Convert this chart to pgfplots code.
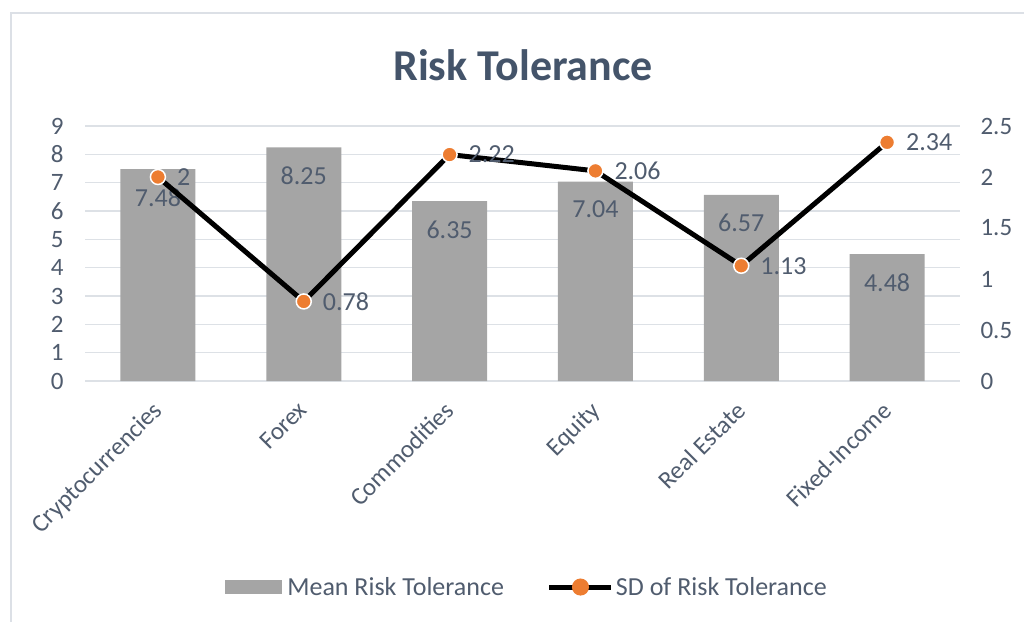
\documentclass[border=0pt]{standalone}
\usepackage{fontspec}
\setmainfont{Carlito}
\usepackage{pgfplots}
\pgfplotsset{compat=1.18}
\definecolor{barc}{HTML}{A5A5A5}
\definecolor{orc}{HTML}{ED7D31}
\definecolor{gridc}{HTML}{DDE1E6}
\definecolor{txt}{HTML}{505C6E}
\definecolor{ttl}{HTML}{44546A}
\definecolor{framec}{HTML}{DCE0E6}
\begin{document}
\begin{tikzpicture}[x=1pt,y=1pt]
\path[use as bounding box] (0,0) rectangle (1024,622);
\draw[framec, line width=2pt] (11,0) -- (11,609) -- (1024,609);
\node[font=\fontsize{44}{50}\selectfont\bfseries, text=ttl] at (523,557) {Risk Tolerance};
\pgfplotsset{common/.style={at={(85pt,241pt)}, anchor=south west, scale only axis,
  width=875pt, height=255pt, xmin=-0.5, xmax=5.5, axis line style={draw=none},
  major tick length=0pt, tick label style={font=\fontsize{25}{30}\selectfont, text=txt},
  /pgf/number format/assume math mode=true}}
\begin{axis}[common, ymin=0, ymax=9, ytick={0,1,2,3,4,5,6,7,8,9}, ymajorgrids,
  grid style={gridc, line width=1.5pt},
  xtick={0,1,2,3,4,5},
  xticklabels={Cryptocurrencies,Forex,Commodities,Equity,Real Estate,Fixed-Income},
  xticklabel style={xshift=-6.5pt, yshift=-14pt, rotate=45, anchor=north east},
  yticklabel style={anchor=east, xshift=-18pt}]
\addplot[ybar, bar width=75pt, fill=barc, draw=none, nodes near coords,
  every node near coord/.append style={anchor=north, yshift=-16pt,
  font=\fontsize{26}{30}\selectfont, text=txt}]
  coordinates {(0,7.48)(1,8.25)(2,6.35)(3,7.04)(4,6.57)(5,4.48)};
\end{axis}
\begin{axis}[common, ymin=0, ymax=2.5, ytick={0,0.5,1,1.5,2,2.5}, xtick=\empty,
  yticklabel pos=right, yticklabel style={anchor=west, xshift=17pt},
  legend columns=2,
  legend style={at={(0.505,-0.808)}, anchor=center, draw=none, fill=none,
    font=\fontsize{26}{30}\selectfont, text=txt, cells={anchor=west},
    nodes={inner xsep=2pt},
    /tikz/every even column/.append style={column sep=41pt}}]
\addlegendimage{legend image code/.code={\fill[barc] (0pt,-6.5pt) rectangle (56pt,6.5pt);
  \path (60pt,0pt);}}
\addlegendentry{Mean Risk Tolerance}
\addplot[black, line width=5pt, mark=*, mark size=7.5pt,
  mark options={fill=orc, draw=white, line width=1.5pt},
  nodes near coords,
  every node near coord/.append style={anchor=west, xshift=15pt,
  font=\fontsize{26}{30}\selectfont, text=txt},
  legend image code/.code={\draw[black, line width=5pt] (0pt,0pt) -- (62pt,0pt);
    \fill[orc] (31pt,0pt) circle (6pt);}]
  coordinates {(0,2)(1,0.78)(2,2.22)(3,2.06)(4,1.13)(5,2.34)};
\addlegendentry{SD of Risk Tolerance}
\end{axis}
\end{tikzpicture}
\end{document}
